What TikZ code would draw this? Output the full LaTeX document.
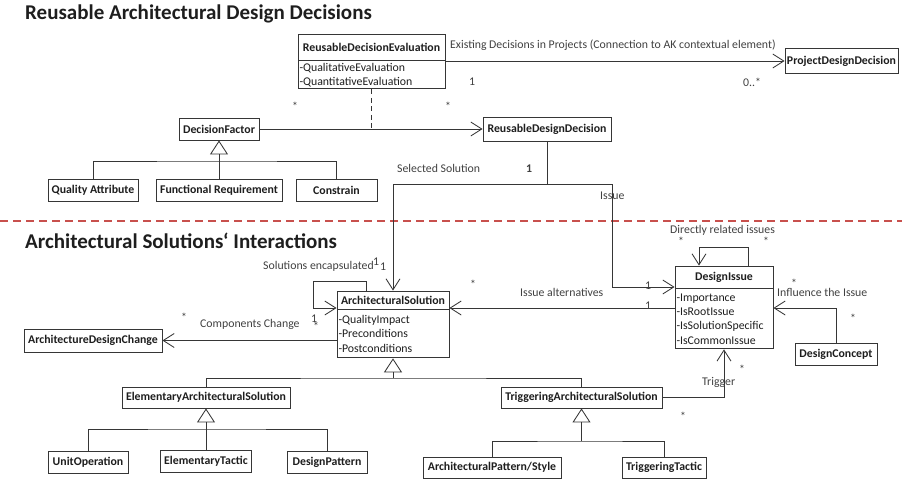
\documentclass[tikz,border=0pt]{standalone}
\usepackage{fontspec}
\setmainfont{Carlito}
\usetikzlibrary{arrows.meta,calc}
\definecolor{linec}{HTML}{363636}
\definecolor{txtc}{HTML}{1E1E1E}
\definecolor{lblc}{HTML}{404040}
\definecolor{redc}{HTML}{C8504D}
\begin{document}
\begin{tikzpicture}[x=1pt,y=-1pt,
 every node/.style={text=txtc},
 cls/.style={draw=linec, line width=0.9pt, fill=white, font=\fontsize{11.8}{14}\selectfont\bfseries, inner sep=0pt},
 attr/.style={draw=linec, line width=0.9pt, fill=white, font=\fontsize{11.8}{14.3}\selectfont, align=left, anchor=north, inner xsep=1.5pt, inner ysep=1pt},
 lbl/.style={text=lblc, font=\fontsize{11.8}{14}\selectfont, inner sep=0pt},
 title/.style={font=\fontsize{21}{24}\selectfont\bfseries, text=txtc, inner sep=0pt, anchor=west},
 conn/.style={draw=linec, line width=0.85pt},
 assoc/.style={conn, -{Straight Barb[length=11pt,width=14pt,line width=0.85pt]}},
 gen/.style={conn, -{Triangle[open,length=14pt,width=18pt,line width=0.85pt]}},
]
\useasboundingbox (0,0) rectangle (902,482);

% ---------- upper part ----------
\node[title] (t1) at (25,14) {Reusable Architectural Design Decisions};

\node[cls, minimum width=147pt, minimum height=26pt] (rdeh) at (371.5,47) {ReusableDecisionEvaluation};
\node[attr, text width=144pt, minimum height=28pt] (rdeb) at (rdeh.south) {-QualitativeEvaluation\\-QuantitativeEvaluation};
\node[cls, minimum width=113pt, minimum height=25pt] (pdd) at (841.5,61) {ProjectDesignDecision};
\node[cls, minimum width=80pt, minimum height=22pt] (df) at (219,129) {DecisionFactor};
\node[cls, minimum width=128pt, minimum height=24pt] (rdd) at (547,129) {ReusableDesignDecision};
\node[cls, minimum width=90pt, minimum height=22pt] (qa) at (93,190) {Quality Attribute};
\node[cls, minimum width=126pt, minimum height=22pt] (fr) at (219,190) {Functional Requirement};
\node[cls, minimum width=81pt, minimum height=22pt] (con) at (336.5,190) {Constrain};

\draw[assoc] (rdeb.east |- pdd.west) -- (pdd.west);
\coordinate (dfm) at (rdeb.south |- df.east);
\draw[conn, dash pattern=on 5pt off 3.5pt] (rdeb.south) -- (dfm);
\draw[assoc] (df.east) -- (rdd.west);
\coordinate (dfj) at (219,161);
\draw[conn] (qa.north) |- (dfj) -| (con.north);
\draw[gen] (fr.north) -- (df.south);

\node[lbl, anchor=west] (l1) at (450,45) {Existing Decisions in Projects (Connection to AK contextual element)};
\node[lbl] (m1) at (472,82) {1};
\node[lbl] (m2) at (752,82) {0..*};
\node[lbl] (m3) at (295,106) {*};
\node[lbl] (m4) at (448,106) {*};
\node[lbl, anchor=west] (l2) at (397,168) {Selected Solution};
\node[lbl, font=\fontsize{11.8}{14}\selectfont\bfseries] (m5) at (529,169) {1};
\node[lbl, anchor=west] (l3) at (600,196) {Issue};

% ---------- separator ----------
\coordinate (sl) at (0,221);
\coordinate (sr) at (902,221);
\draw[draw=redc, line width=1.2pt, dash pattern=on 8pt off 5pt] (sl) -- (sr);

% ---------- lower part ----------
\node[title] (t2) at (25,241) {Architectural Solutions‘ Interactions};

\node[cls, minimum width=112pt, minimum height=18pt] (ash) at (393,300) {ArchitecturalSolution};
\node[attr, text width=109pt, minimum height=48pt] (asb) at (ash.south) {-QualityImpact\\-Preconditions\\-Postconditions};
\node[cls, minimum width=138pt, minimum height=23pt] (adc) at (93,340.5) {ArchitectureDesignChange};
\node[cls, minimum width=98pt, minimum height=22pt] (dih) at (724,277) {DesignIssue};
\node[attr, text width=95pt, minimum height=60pt] (dib) at (dih.south) {-Importance\\-IsRootIssue\\-IsSolutionSpecific\\-IsCommonIssue};
\node[cls, minimum width=82pt, minimum height=22pt] (dc) at (836,354) {DesignConcept};
\node[cls, minimum width=168pt, minimum height=21pt] (eas) at (206,397.5) {ElementaryArchitecturalSolution};
\node[cls, minimum width=161pt, minimum height=21pt] (tas) at (581.5,397.5) {TriggeringArchitecturalSolution};
\node[cls, minimum width=80pt, minimum height=22pt] (uo) at (88,462) {UnitOperation};
\node[cls, minimum width=91pt, minimum height=22pt] (et) at (206,461) {ElementaryTactic};
\node[cls, minimum width=80pt, minimum height=22pt] (dp) at (327,462) {DesignPattern};
\node[cls, minimum width=138pt, minimum height=21pt] (aps) at (492,467.5) {ArchitecturalPattern/Style};
\node[cls, minimum width=84pt, minimum height=21pt] (tt) at (664,467.5) {TriggeringTactic};

% decision -> solution / issue
\coordinate (rj) at (547,184);
\coordinate (ij) at (612,287);
\draw[conn] (rdd.south) -- (rj);
\draw[assoc] (rj) -| (ash.north);
\draw[assoc] (rj) -| (ij) -- (dih.west |- ij);

% self loops
\draw[assoc] ($(ash.north)+(-27,0)$) |- (313,281) |- (ash.west |- 0,308);
\draw[assoc] ($(dih.north)+(24,0)$) |- (699,247) -- ($(dih.north)+(-25,0)$);

% associations
\draw[assoc] (asb.west |- adc.east) -- (adc.east);
\draw[assoc] (dib.west |- 0,308) -- (ash.east |- 0,308);
\draw[assoc] (dc.north) |- (dib.east |- 0,308);
\draw[assoc] (tas.east) -| (dib.south);

% generalisations
\coordinate (asj) at (393,378);
\draw[conn] (eas.north) |- (asj) -| (tas.north);
\draw[gen] (asj) -- (asb.south);
\coordinate (easj) at (206,429);
\draw[conn] (uo.north) |- (easj) -| (dp.north);
\draw[gen] (et.north) -- (eas.south);
\coordinate (tasj) at (581.5,441);
\draw[conn] (aps.north) |- (tasj) -| (tt.north);
\draw[gen] (tasj) -- (tas.south);

% labels
\node[lbl, anchor=west] (l4) at (263,266) {Solutions encapsulated};
\node[lbl] (m6) at (376,262) {1};
\node[lbl] (m7) at (383,267) {1};
\node[lbl] (m8) at (184,317) {*};
\node[lbl, anchor=west] (l5) at (200,324) {Components Change};
\node[lbl] (m9) at (314,319) {1};
\node[lbl] (m10) at (316,326) {*};
\node[lbl] (m11) at (473,284) {*};
\node[lbl, anchor=west] (l6) at (520,292) {Issue alternatives};
\node[lbl] (m12) at (648,286) {1};
\node[lbl] (m13) at (648,306) {1};
\node[lbl, anchor=west] (l7) at (670,230) {Directly related issues};
\node[lbl] (m14) at (681,241) {*};
\node[lbl] (m15) at (766,241) {*};
\node[lbl, anchor=west] (l8) at (777,292) {Influence the Issue};
\node[lbl] (m16) at (794,283) {*};
\node[lbl] (m17) at (853,318) {*};
\node[lbl, anchor=west] (l9) at (702,382) {Trigger};
\node[lbl] (m18) at (742,369) {*};
\node[lbl] (m19) at (683,416) {*};
\end{tikzpicture}
\end{document}
